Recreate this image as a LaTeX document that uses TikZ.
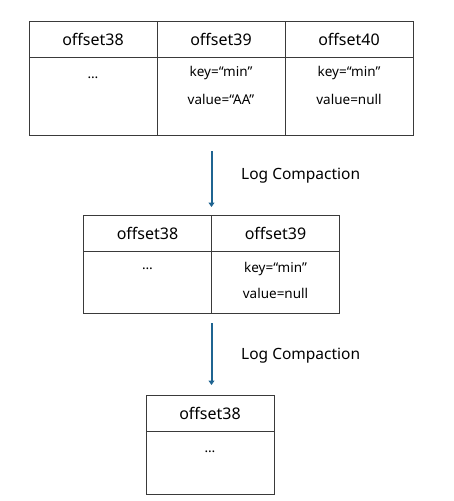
\documentclass[tikz,border=0pt]{standalone}
\usepackage{fontspec}
\setmainfont{Noto Sans}
\usepackage{xcolor}
\usepackage{tikz}
\usetikzlibrary{positioning,arrows.meta}
\definecolor{line}{HTML}{3A3A3A}
\definecolor{flowc}{HTML}{1F6491}
\definecolor{text}{HTML}{000000}
\tikzset{
  cell/.style={draw=line, line width=1pt, outer sep=0pt, inner sep=0pt, minimum width=128pt},
  head/.style={cell, minimum height=36pt, font=\fontsize{16}{18}\selectfont, text=text},
  body/.style={cell},
  val/.style={text=text, font=\fontsize{13.5}{16}\selectfont, inner sep=1pt, text height=10pt, text depth=3pt},
  flow/.style={draw=flowc, line width=2pt, -{Triangle[length=4.5pt,width=6pt]}},
  lab/.style={text=text, font=\fontsize{15.5}{18}\selectfont, anchor=west, inner sep=0pt},
}

\begin{document}
\begin{tikzpicture}[x=1pt,y=-1pt]
  \useasboundingbox (0,0) rectangle (453,501);
  % before compaction
  \node[head, anchor=north west] (ah38) at (29,21) {offset38};
  \node[head, right=0pt of ah38] (ah39) {offset39};
  \node[head, right=0pt of ah39] (ah40) {offset40};
  \node[body, minimum height=78pt, below=0pt of ah38] (ab38) {};
  \node[body, minimum height=78pt, below=0pt of ah39] (ab39) {};
  \node[body, minimum height=78pt, below=0pt of ah40] (ab40) {};
  \node[val, below=10pt of ab38.north] (av38) {…};
  \node[val, below=8.5pt of ab39.north] (ak39) {key=“min”};
  \node[val, below=12pt of ak39] (av39) {value=“AA”};
  \node[val, below=8.5pt of ab40.north] (ak40) {key=“min”};
  \node[val, below=12pt of ak40] (av40) {value=null};
  % first step
  \coordinate (f1s) at (211.5,151);
  \coordinate (f1e) at (211.5,207);
  \draw[flow] (f1s) -- (f1e);
  \node[lab] (l1) at (241,176) {Log Compaction};
  % after one pass
  \node[head, anchor=north west] (bh38) at (83.5,215) {offset38};
  \node[head, right=0pt of bh38] (bh39) {offset39};
  \node[body, minimum height=62pt, below=0pt of bh38] (bb38) {};
  \node[body, minimum height=62pt, below=0pt of bh39] (bb39) {};
  \node[val, below=7pt of bb38.north] (bv38) {…};
  \node[val, below=10.5pt of bb39.north] (bk39) {key=“min”};
  \node[val, below=10pt of bk39] (bv39) {value=null};
  % second step
  \coordinate (f2s) at (211.5,323);
  \coordinate (f2e) at (211.5,385);
  \draw[flow] (f2s) -- (f2e);
  \node[lab] (l2) at (241,356) {Log Compaction};
  % after two passes
  \node[head, anchor=north west] (ch38) at (146,395) {offset38};
  \node[body, minimum height=63pt, below=0pt of ch38] (cb38) {};
  \node[val, below=10pt of cb38.north] (cv38) {…};
\end{tikzpicture}
\end{document}
